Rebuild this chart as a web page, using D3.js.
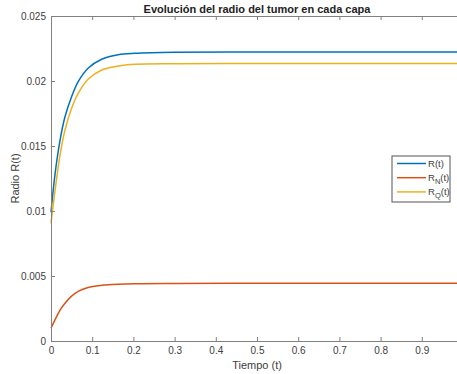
<!DOCTYPE html>
<html>
<head>
<meta charset="utf-8">
<script src="https://cdn.jsdelivr.net/npm/d3@7"></script>
<style>
  body { margin: 0; background: #fff; }
  svg { display: block; font-family: "Liberation Sans", Arial, sans-serif; }
</style>
</head>
<body>
<div id="chart"></div>
<script>
// values
const time = [0, 0.01, 0.022, 0.034, 0.05, 0.066, 0.09, 0.123, 0.163, 0.204, 0.3, 0.5, 0.7, 1.0];
const radioR = [0.0099, 0.0129, 0.01546, 0.01725, 0.01879, 0.01995, 0.02098, 0.02167, 0.02202, 0.02213, 0.02221, 0.02223, 0.02223, 0.02223];
const radioN = [0.00098, 0.00165, 0.00238, 0.0029, 0.00345, 0.00382, 0.00412, 0.00428, 0.00437, 0.00441, 0.00443, 0.00444, 0.00444, 0.00444];
const radioQ = [0.00905, 0.01162, 0.01431, 0.01623, 0.0179, 0.01905, 0.02013, 0.02085, 0.02115, 0.02128, 0.02133, 0.02135, 0.02135, 0.02135];

const xTicks = [0, 0.1, 0.2, 0.3, 0.4, 0.5, 0.6, 0.7, 0.8, 0.9];
const yTicks = [0, 0.005, 0.01, 0.015, 0.02, 0.025];

const series = [
  { name: "R", sub: null, values: radioR, color: "#0072BD" },
  { name: "R", sub: "N", values: radioN, color: "#D95319" },
  { name: "R", sub: "Q", values: radioQ, color: "#EDB120" }
];

const width = 457, height = 374;
const margin = { top: 16, left: 51, bottom: 33, right: -6 };

const x = d3.scaleLinear().domain([0, 1]).range([margin.left, width - margin.right]);
const y = d3.scaleLinear().domain([0, 0.025]).range([height - margin.bottom, margin.top]);

const svg = d3.select("#chart")
  .append("svg")
  .attr("width", width)
  .attr("height", height);

const axisColor = "#808080";
const textColor = "#404040";

// lines
const line = d3.line()
  .x((d) => x(d[0]))
  .y((d) => y(d[1]))
  .curve(d3.curveCatmullRom.alpha(0.5));

svg.append("g")
  .selectAll("path")
  .data(series)
  .enter()
  .append("path")
  .attr("d", (s) => line(time.map((t, i) => [t, s.values[i]])))
  .attr("fill", "none")
  .attr("stroke", (s) => s.color)
  .attr("stroke-width", 1.5);

// axes
const xAxis = svg.append("g")
  .attr("transform", `translate(0,${y(0)})`)
  .call(d3.axisBottom(x).tickValues(xTicks).tickFormat(d3.format("")).tickSizeInner(-4).tickSizeOuter(0).tickPadding(7));

const xTop = svg.append("g")
  .attr("transform", `translate(0,${y(0.025)})`)
  .call(d3.axisTop(x).tickValues(xTicks).tickFormat("").tickSizeInner(-4).tickSizeOuter(0));

const yAxis = svg.append("g")
  .attr("transform", `translate(${x(0)},0)`)
  .call(d3.axisLeft(y).tickValues(yTicks).tickFormat(d3.format("")).tickSizeInner(-4).tickSizeOuter(0).tickPadding(5));

[xAxis, xTop, yAxis].forEach((g) => {
  g.select(".domain").attr("stroke", axisColor);
  g.selectAll(".tick line").attr("stroke", axisColor);
  g.selectAll(".tick text")
    .attr("fill", textColor)
    .style("font-size", "10px");
});
xAxis.selectAll(".tick text").attr("dy", "0.6em");

// labels
svg.append("text")
  .attr("x", x(0.5))
  .attr("y", 13)
  .attr("text-anchor", "middle")
  .style("font-size", "11px")
  .style("font-weight", "bold")
  .attr("fill", "#222")
  .text("Evolución del radio del tumor en cada capa");

svg.append("text")
  .attr("x", x(0.5))
  .attr("y", 369)
  .attr("text-anchor", "middle")
  .style("font-size", "11px")
  .attr("fill", textColor)
  .text("Tiempo (t)");

svg.append("text")
  .attr("transform", `translate(19,${(y(0) + y(0.025)) / 2}) rotate(-90)`)
  .attr("text-anchor", "middle")
  .style("font-size", "11px")
  .attr("fill", textColor)
  .text("Radio R(t)");

// legend
const legend = svg.append("g").attr("transform", "translate(392,156)");
legend.append("rect")
  .attr("width", 58)
  .attr("height", 46)
  .attr("fill", "#fff")
  .attr("stroke", "#555")
  .attr("stroke-width", 1);

const item = legend.selectAll("g.item")
  .data(series)
  .enter()
  .append("g")
  .attr("class", "item")
  .attr("transform", (d, i) => `translate(0,${7.5 + i * 14.2})`);

item.append("line")
  .attr("x1", 5).attr("x2", 34)
  .attr("stroke", (d) => d.color)
  .attr("stroke-width", 1.5);

const label = item.append("text")
  .attr("x", 36)
  .attr("y", 3.5)
  .attr("fill", textColor)
  .style("font-size", "9.5px");
label.append("tspan").text((d) => d.name);
label.filter((d) => d.sub)
  .append("tspan")
  .attr("dy", 3)
  .style("font-size", "7.5px")
  .text((d) => d.sub);
label.append("tspan")
  .attr("dy", (d) => (d.sub ? -3 : 0))
  .text("(t)");
</script>
</body>
</html>
